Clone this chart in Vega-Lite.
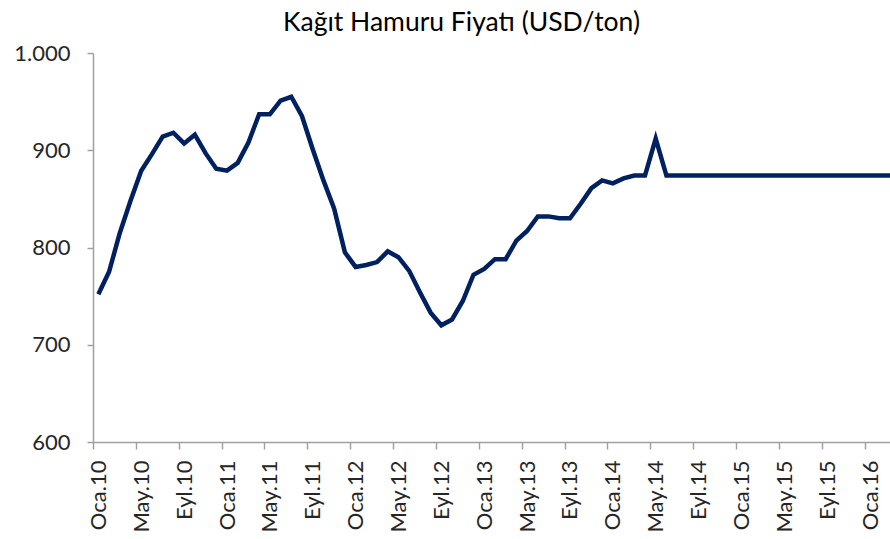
{
  "$schema": "https://vega.github.io/schema/vega-lite/v6.json",
  "autosize": "none",
  "width": 797,
  "height": 389,
  "padding": {"left": 93, "top": 53, "right": 0, "bottom": 97},
  "background": "white",
  "title": {
    "text": "Kağıt Hamuru Fiyatı (USD/ton)",
    "font": "Lato",
    "fontSize": 26.5,
    "fontWeight": "normal",
    "color": "#000000",
    "anchor": "middle",
    "frame": "group",
    "dx": -30,
    "offset": 6
  },
  "config": {
    "view": {"stroke": null},
    "axis": {
      "labelFont": "Lato",
      "labelFontSize": 22,
      "labelColor": "#262626",
      "domainColor": "#a0a0a0",
      "tickColor": "#a0a0a0",
      "domainWidth": 1.5,
      "tickWidth": 1.5,
      "grid": false,
      "title": null
    }
  },
  "data": {
    "values": [
      {"i": 0, "fiyat": 752}, {"i": 1, "fiyat": 775}, {"i": 2, "fiyat": 815}, {"i": 3, "fiyat": 848},
      {"i": 4, "fiyat": 879}, {"i": 5, "fiyat": 896}, {"i": 6, "fiyat": 914}, {"i": 7, "fiyat": 918},
      {"i": 8, "fiyat": 907}, {"i": 9, "fiyat": 916}, {"i": 10, "fiyat": 897}, {"i": 11, "fiyat": 881},
      {"i": 12, "fiyat": 879}, {"i": 13, "fiyat": 887}, {"i": 14, "fiyat": 908}, {"i": 15, "fiyat": 937},
      {"i": 16, "fiyat": 937}, {"i": 17, "fiyat": 951}, {"i": 18, "fiyat": 955}, {"i": 19, "fiyat": 935},
      {"i": 20, "fiyat": 901}, {"i": 21, "fiyat": 869}, {"i": 22, "fiyat": 840}, {"i": 23, "fiyat": 795},
      {"i": 24, "fiyat": 780}, {"i": 25, "fiyat": 782}, {"i": 26, "fiyat": 785}, {"i": 27, "fiyat": 796},
      {"i": 28, "fiyat": 790}, {"i": 29, "fiyat": 776}, {"i": 30, "fiyat": 754}, {"i": 31, "fiyat": 733},
      {"i": 32, "fiyat": 720}, {"i": 33, "fiyat": 726}, {"i": 34, "fiyat": 745}, {"i": 35, "fiyat": 772},
      {"i": 36, "fiyat": 778}, {"i": 37, "fiyat": 788}, {"i": 38, "fiyat": 788}, {"i": 39, "fiyat": 807},
      {"i": 40, "fiyat": 817}, {"i": 41, "fiyat": 832}, {"i": 42, "fiyat": 832}, {"i": 43, "fiyat": 830},
      {"i": 44, "fiyat": 830}, {"i": 45, "fiyat": 845}, {"i": 46, "fiyat": 861}, {"i": 47, "fiyat": 869},
      {"i": 48, "fiyat": 866}, {"i": 49, "fiyat": 871}, {"i": 50, "fiyat": 874}, {"i": 51, "fiyat": 874},
      {"i": 52, "fiyat": 912}, {"i": 53, "fiyat": 874}, {"i": 54, "fiyat": 874}, {"i": 55, "fiyat": 874},
      {"i": 56, "fiyat": 874}, {"i": 57, "fiyat": 874}, {"i": 58, "fiyat": 874}, {"i": 59, "fiyat": 874},
      {"i": 60, "fiyat": 874}, {"i": 61, "fiyat": 874}, {"i": 62, "fiyat": 874}, {"i": 63, "fiyat": 874},
      {"i": 64, "fiyat": 874}, {"i": 65, "fiyat": 874}, {"i": 66, "fiyat": 874}, {"i": 67, "fiyat": 874},
      {"i": 68, "fiyat": 874}, {"i": 69, "fiyat": 874}, {"i": 70, "fiyat": 874}, {"i": 71, "fiyat": 874},
      {"i": 72, "fiyat": 874}, {"i": 73, "fiyat": 874}, {"i": 74, "fiyat": 874}
    ]
  },
  "mark": {"type": "line", "color": "#002060", "strokeWidth": 4.5, "clip": true, "strokeJoin": "miter"},
  "encoding": {
    "x": {
      "field": "i",
      "type": "quantitative",
      "scale": {"domain": [-0.5, 73.86], "nice": false, "zero": false},
      "axis": {
        "values": [-0.5, 3.5, 7.5, 11.5, 15.5, 19.5, 23.5, 27.5, 31.5, 35.5, 39.5, 43.5, 47.5, 51.5, 55.5, 59.5, 63.5, 67.5, 71.5],
        "labelExpr": "['Oca','Şub','Mar','Nis','May','Haz','Tem','Ağu','Eyl','Eki','Kas','Ara'][(datum.value + 0.5) % 12] + '.' + (10 + floor((datum.value + 0.5) / 12))",
        "labelAngle": -90,
        "labelAlign": "right",
        "labelBaseline": "middle",
        "labelOffset": 5.4,
        "labelPadding": 11,
        "tickSize": 7,
        "labelOverlap": false,
        "labelFlush": false,
        "labelBound": false
      }
    },
    "y": {
      "field": "fiyat",
      "type": "quantitative",
      "scale": {"domain": [600, 1000], "nice": false, "zero": false},
      "axis": {
        "values": [600, 700, 800, 900, 1000],
        "labelExpr": "replace(format(datum.value, ','), ',', '.')",
        "tickSize": 6,
        "labelPadding": 17
      }
    }
  }
}
